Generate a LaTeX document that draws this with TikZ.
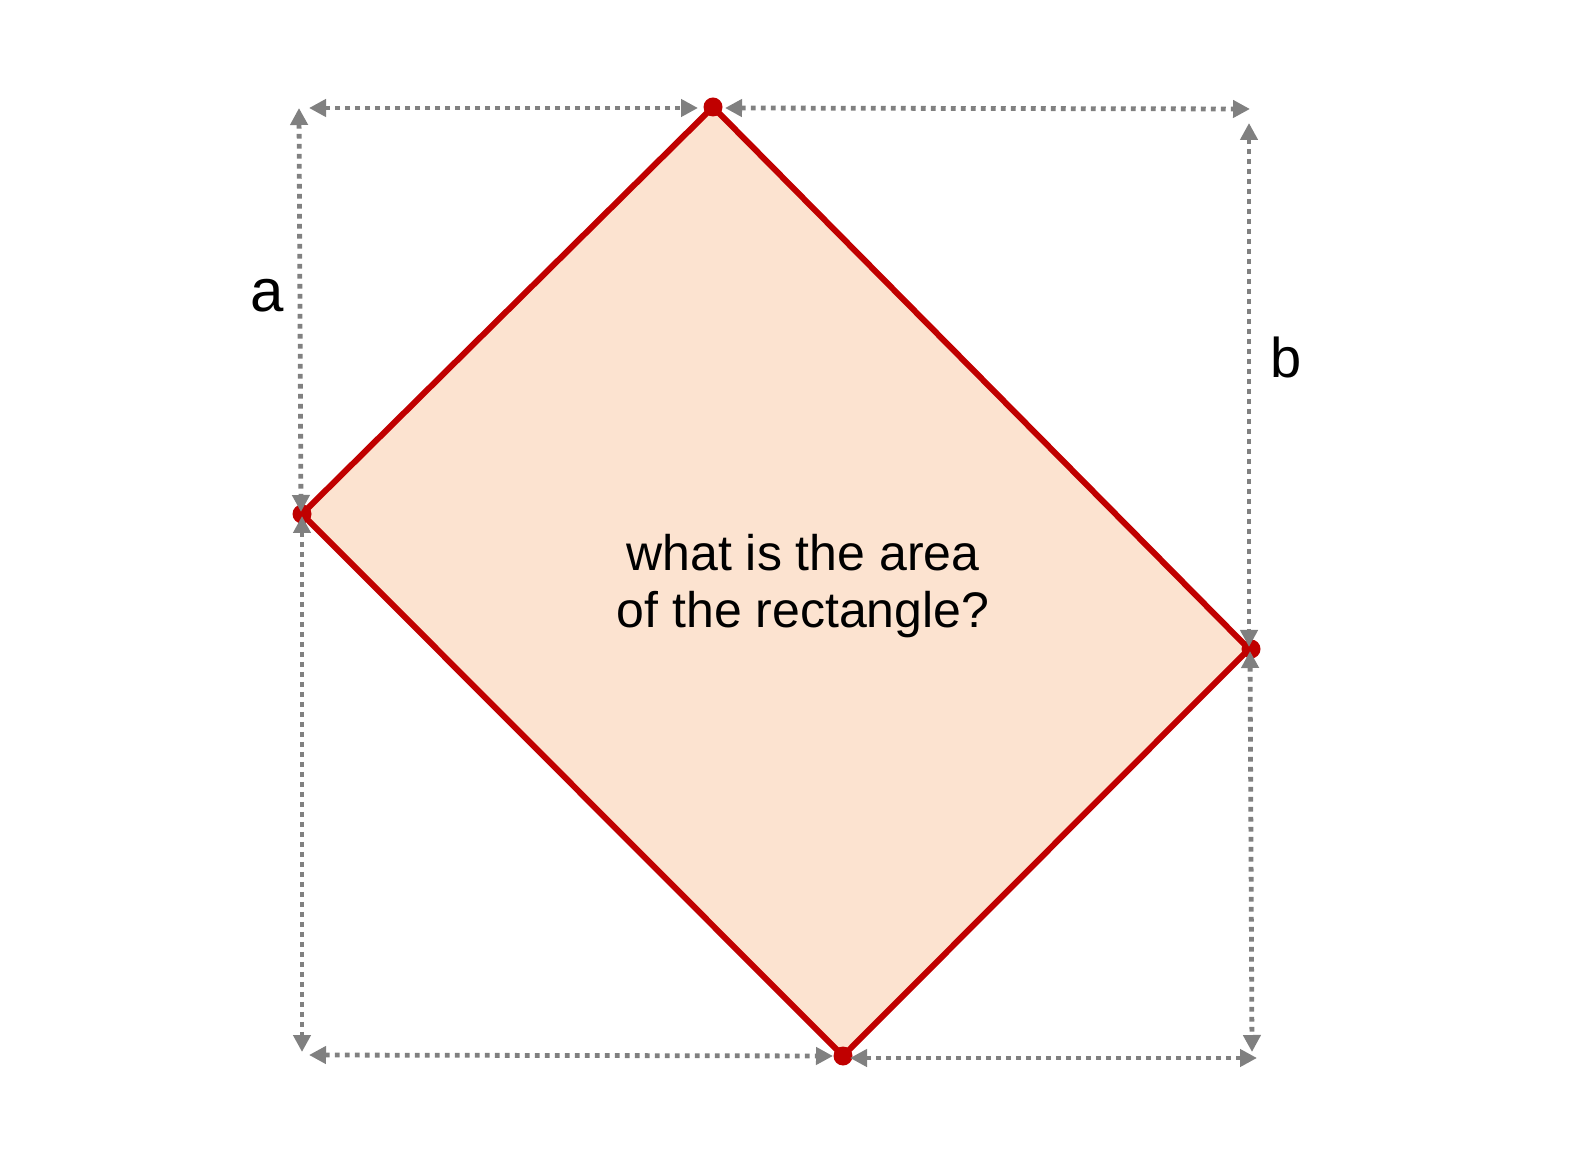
\documentclass[tikz,border=0pt]{standalone}
\usepackage{fontspec}
\setmainfont{Liberation Sans}
\usetikzlibrary{arrows.meta}
\definecolor{rectred}{RGB}{192,0,0}
\definecolor{rectfill}{RGB}{252,227,208}
\definecolor{dimgray}{RGB}{128,128,128}
\tikzset{
  dimline/.style={draw=dimgray, line width=2.4pt, dash pattern=on 2.4pt off 2.6pt,
    {Triangle[length=8.5pt,width=8.5pt]}-{Triangle[length=8.5pt,width=8.5pt]}},
  corner/.style={circle, fill=rectred, inner sep=0pt, minimum size=9.5pt},
}
\begin{document}
\begin{tikzpicture}[x=0.5pt, y=-0.5pt]
				\useasboundingbox (0,0) rectangle (1596,1170);
				\coordinate (top) at (713,107);
				\coordinate (left) at (302,514);
				\coordinate (right) at (1249,649);
				\coordinate (bottom) at (843,1056);
				\filldraw[fill=rectfill, draw=rectred, line width=3pt, line join=round]
					(top) -- (right) -- (bottom) -- (left) -- cycle;
				\node[corner] (dtop) at (top) {};
				\node[corner] (dleft) at (left) {};
				\node[corner] (dright) at (1251,649) {};
				\node[corner] (dbottom) at (843,1056) {};
				% dimension arrows
				\coordinate (tl) at (309,108);
				\coordinate (tm1) at (698,108);
				\coordinate (tm2) at (725,108);
				\coordinate (tr) at (1250,109);
				\coordinate (lt) at (299,108);
				\coordinate (lm1) at (301,512);
				\coordinate (lm2) at (302,516);
				\coordinate (lb) at (302,1052);
				\coordinate (rt) at (1249,123);
				\coordinate (rm1) at (1249,647);
				\coordinate (rm2) at (1250,651);
				\coordinate (rb) at (1252,1052);
				\coordinate (bl) at (309,1055);
				\coordinate (bm1) at (833,1056);
				\coordinate (bm2) at (850,1058);
				\coordinate (br) at (1257,1058);
				\draw[dimline] (tl) -- (tm1);
				\draw[dimline] (tm2) -- (tr);
				\draw[dimline] (lt) -- (lm1);
				\draw[dimline] (lm2) -- (lb);
				\draw[dimline] (rt) -- (rm1);
				\draw[dimline] (rm2) -- (rb);
				\draw[dimline] (bl) -- (bm1);
				\draw[dimline] (bm2) -- (br);
				\node[font=\fontsize{30}{36}\selectfont, inner sep=0pt] (a) at (267.5,296) {a};
				\node[font=\fontsize{28}{34}\selectfont, inner sep=0pt] (b) at (1286,357) {b};
				\node[align=center, font=\fontsize{25}{28.5}\selectfont, inner sep=0pt] (question) at (803,586)
					{what is the area\\of the rectangle?};
			\end{tikzpicture}
\end{document}
